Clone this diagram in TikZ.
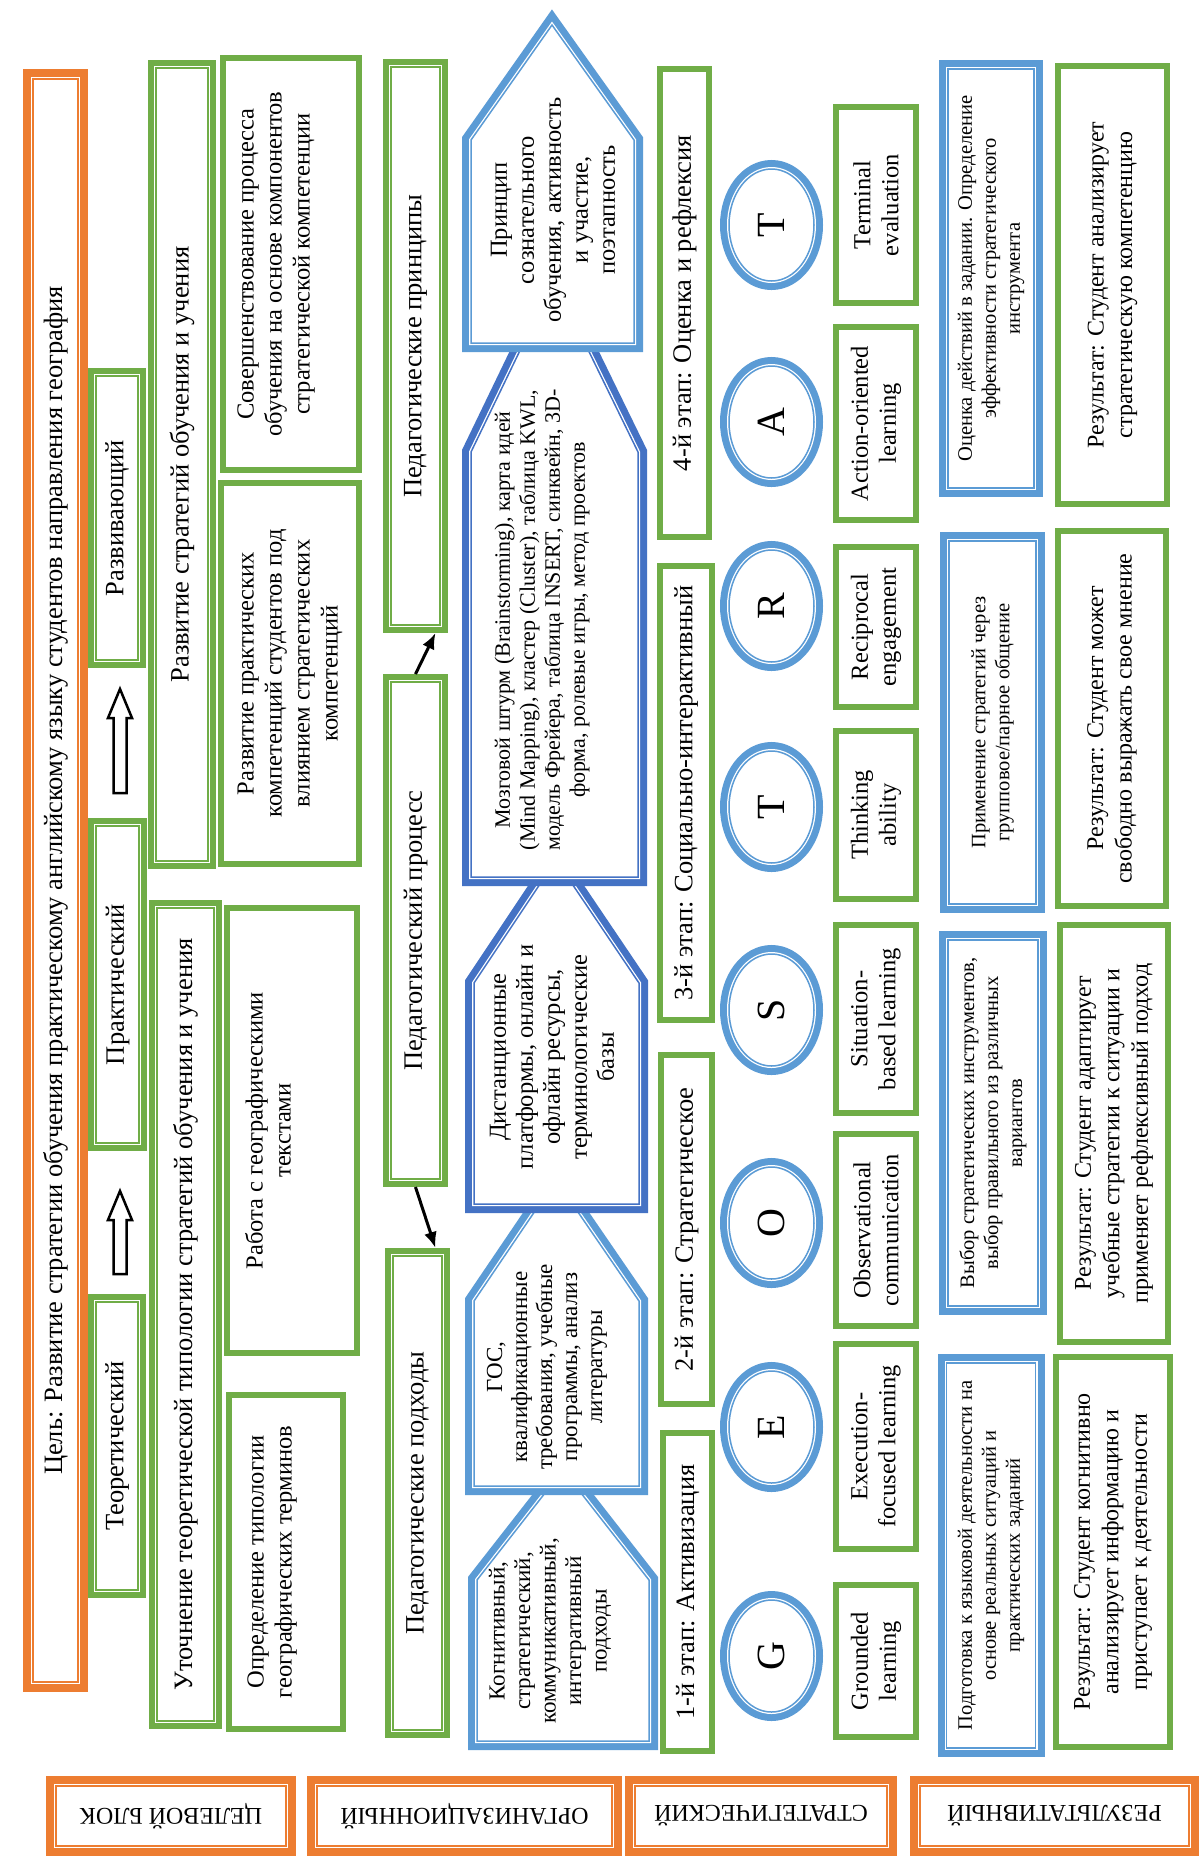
\documentclass[tikz,border=0pt]{standalone}
\usepackage{fontspec}
\setmainfont{Liberation Serif}
\usetikzlibrary{arrows.meta,shapes.geometric}

\definecolor{cgreen}{HTML}{70AD47}
\definecolor{corange}{HTML}{ED7D31}
\definecolor{clblue}{HTML}{5B9BD5}
\definecolor{cdblue}{HTML}{4472C4}

\newcommand{\fs}[2]{\fontsize{#1}{#2}\selectfont}

\tikzset{
  every node/.style={inner sep=0pt, align=center},
  txt/.style={font=\fs{26.5}{30}},
  dtl/.style={font=\fs{24.5}{28}},
  eng/.style={font=\fs{24.5}{28}},
  res/.style={font=\fs{24}{28.5}},
  dsc/.style={font=\fs{20.5}{24}},
  lbl/.style={font=\fs{24}{28}},
  gbox/.style={draw=cgreen, line width=6pt, fill=white, outer sep=3pt},
  gdbl/.style={draw=cgreen, line width=1.5pt, fill=white, outer sep=8pt,
    preaction={draw=cgreen, line width=16pt},
    preaction={draw=white, line width=4pt}},
  bdbl/.style={draw=#1, line width=1.5pt, fill=white, outer sep=9pt,
    preaction={draw=#1, line width=18pt},
    preaction={draw=white, line width=4pt}},
  bdbl/.default=clblue,
  odbl/.style={draw=corange, line width=1.5pt, fill=white, outer sep=10pt,
    preaction={draw=corange, line width=20pt},
    preaction={draw=white, line width=4pt}},
  blockarrow/.style={draw=black, line width=2.5pt, fill=white},
  pedarrow/.style={line width=3pt, -{Latex[length=16pt,width=13pt]}},
}

\begin{document}
\begin{tikzpicture}[x=1pt, y=-1pt]
\useasboundingbox[fill=white] (0,0) rectangle (1203,1861);

% aim
\node[odbl, rotate=90, minimum width=1603, minimum height=45, txt] (aim) at (55.5,880.5)
  {Цель: Развитие стратегии обучения практическому английскому языку студентов направления география};

% stages
\node[gdbl, rotate=90, minimum width=288, minimum height=42, txt] (theo) at (117,1446) {Теоретический};
\node[gdbl, rotate=90, minimum width=317, minimum height=43, txt] (prac) at (117.5,984.5) {Практический};
\node[gdbl, rotate=90, minimum width=284, minimum height=42, txt] (devel) at (117,518) {Развивающий};
\draw[blockarrow] (120,1191) -- (132,1220) -- (126.5,1220) -- (126.5,1274) -- (113.5,1274)
  -- (113.5,1220) -- (108,1220) -- cycle;
\draw[blockarrow] (120,689) -- (132,718) -- (126.5,718) -- (126.5,793) -- (113.5,793)
  -- (113.5,718) -- (108,718) -- cycle;

\node[gdbl, rotate=90, minimum width=813, minimum height=57, txt] (clarify) at (185.5,1314.5)
  {Уточнение теоретической типологии стратегий обучения и учения};
\node[gdbl, rotate=90, minimum width=793, minimum height=52, txt] (devstr) at (182,464.5)
  {Развитие стратегий обучения и учения};

% tasks
\node[gbox, rotate=90, minimum width=334, minimum height=114] (define) at (286,1562) {};
\node[rotate=90, dtl] (definetxt) at (272,1562) {Определение типологии\\географических терминов};
\node[gbox, rotate=90, minimum width=445, minimum height=130] (work) at (292,1130.5) {};
\node[rotate=90, dtl] (worktxt) at (268,1130.5) {Работа с географическими\\текстами};
\node[gbox, rotate=90, minimum width=381, minimum height=138, dtl] (practice) at (290,673.5)
  {Развитие практических\\компетенций студентов под\\влиянием стратегических\\компетенций};
\node[gbox, rotate=90, minimum width=412, minimum height=136] (improve) at (291,264) {};
\node[rotate=90, dtl] (improvetxt) at (276,264)
  {Совершенствование процесса\\обучения на основе компонентов\\стратегической компетенции};

% pedagogy
\node[gdbl, rotate=90, minimum width=474, minimum height=49, txt] (appr) at (417.5,1493) {Педагогические подходы};
\node[gdbl, rotate=90, minimum width=497, minimum height=49, txt] (proc) at (415.5,930.5) {Педагогический процесс};
\node[gdbl, rotate=90, minimum width=558, minimum height=49, txt] (princ) at (415.5,346) {Педагогические принципы};
\draw[pedarrow] (proc.east) -- ([xshift=20pt]princ.west);
\draw[pedarrow] (proc.west) -- ([xshift=18pt]appr.east);

% pentagons
\draw[bdbl] (477,1741) -- (477,1580) -- (563,1470) -- (649,1580) -- (649,1741) -- cycle;
\draw[bdbl] (474,1486) -- (474,1301) -- (556,1180) -- (639,1301) -- (639,1486) -- cycle;
\draw[bdbl=cdblue] (474,1204) -- (474,983) -- (556,860) -- (639,983) -- (639,1204) -- cycle;
\draw[bdbl=cdblue] (471,877) -- (471,452) -- (554,280) -- (638,452) -- (638,877) -- cycle;
\draw[bdbl] (471,343) -- (471,140) -- (552,25) -- (634,140) -- (634,343) -- cycle;

\node[rotate=90, font=\fs{23}{25.5}] (cogn) at (550,1631)
  {Когнитивный,\\стратегический,\\коммуникативный,\\интегративный\\подходы};
\node[rotate=90, font=\fs{23}{25}] (gos) at (547,1367)
  {ГОС,\\квалификационные\\требования, учебные\\программы, анализ\\литературы};
\node[rotate=90, font=\fs{24.5}{27}] (dist) at (552,1057)
  {Дистанционные\\платформы, онлайн и\\офлайн ресурсы,\\терминологические\\базы};
\node[rotate=90, font=\fs{22}{25}] (brain) at (542,620)
  {Мозговой штурм (Brainstorming), карта идей\\(Mind Mapping), кластер (Cluster), таблица KWL,\\модель Фрейера, таблица INSERT, синквейн, 3D-\\форма, ролевые игры, метод проектов};
\node[rotate=90, font=\fs{24.5}{27}] (conscious) at (553,210)
  {Принцип\\сознательного\\обучения, активность\\и участие,\\поэтапность};

% steps
\node[gbox, rotate=90, minimum width=318, minimum height=49, txt] (st1) at (687.5,1592) {1-й этап: Активизация};
\node[gbox, rotate=90, minimum width=349, minimum height=51, txt] (st2) at (686.5,1229.5) {2-й этап: Стратегическое};
\node[gbox, rotate=90, minimum width=454, minimum height=52, txt] (st3) at (686,793) {3-й этап: Социально-интерактивный};
\node[gbox, rotate=90, minimum width=468, minimum height=49, txt] (st4) at (684.5,303) {4-й этап: Оценка и рефлексия};

% GEOSTRAT
\foreach \ltr/\yy/\nm in {G/1656/cg, E/1427/ce, O/1223/co, S/1010/cs, T/807/ct, R/606/cr, A/422/ca, T/225/ctt}
  \node[bdbl, ellipse, rotate=90, minimum width=112, minimum height=85, font=\fs{40}{40}] (\nm) at (771.5,\yy) {\ltr};

\foreach \txt/\yy/\ww/\nm in {{Grounded\\learning}/1661/152/eg, {Execution-\\focused learning}/1446.5/205/ee,
    {Observational\\communication}/1230/192/eo, {Situation-\\based learning}/1019/188/es,
    {Thinking\\ability}/815/168/et, {Reciprocal\\engagement}/627/160/er,
    {Action-oriented\\learning}/423.5/193/ea, {Terminal\\evaluation}/205/196/ett}
  \node[gbox, rotate=90, minimum width=\ww, minimum height=80, eng] (\nm) at (876,\yy) {\txt};

% actions
\node[bdbl, rotate=90, minimum width=385, minimum height=89, dsc] (prep) at (991,1555.5)
  {Подготовка к языковой деятельности на\\основе реальных ситуаций и\\практических заданий};
\node[bdbl, rotate=90, minimum width=366, minimum height=90, dsc] (choice) at (993,1123)
  {Выбор стратегических инструментов,\\выбор правильного из различных\\вариантов};
\node[bdbl, rotate=90, minimum width=363, minimum height=87, dsc] (apply) at (992.5,722.5)
  {Применение стратегий через\\групповое/парное общение};
\node[bdbl, rotate=90, minimum width=419, minimum height=86, dsc] (evalact) at (991,278.5)
  {Оценка действий в задании. Определение\\эффективности стратегического\\инструмента};

% results
\node[gbox, rotate=90, minimum width=390, minimum height=114, res] (res1) at (1113,1552)
  {Результат: Студент когнитивно\\анализирует информацию и\\приступает к деятельности};
\node[gbox, rotate=90, minimum width=417, minimum height=108, res] (res2) at (1114,1133.5)
  {Результат: Студент адаптирует\\учебные стратегии к ситуации и\\применяет рефлексивный подход};
\node[gbox, rotate=90, minimum width=375, minimum height=108, res] (res3) at (1112,718.5)
  {Результат: Студент может\\свободно выражать свое мнение};
\node[gbox, rotate=90, minimum width=438, minimum height=109, res] (res4) at (1112.5,285)
  {Результат: Студент анализирует\\стратегическую компетенцию};

% blocks
\node[odbl, rotate=180, minimum width=230, minimum height=60, lbl] (lbaim) at (171,1816) {ЦЕЛЕВОЙ БЛОК};
\node[odbl, rotate=180, minimum width=295, minimum height=60, lbl] (lborg) at (464.5,1816) {ОРГАНИЗАЦИОННЫЙ};
\node[odbl, rotate=180, minimum width=252, minimum height=60, lbl] (lbstr) at (761,1816) {СТРАТЕГИЧЕСКИЙ};
\node[odbl, rotate=180, minimum width=269, minimum height=60, lbl] (lbres) at (1054.5,1816) {РЕЗУЛЬТАТИВНЫЙ};
\end{tikzpicture}
\end{document}
